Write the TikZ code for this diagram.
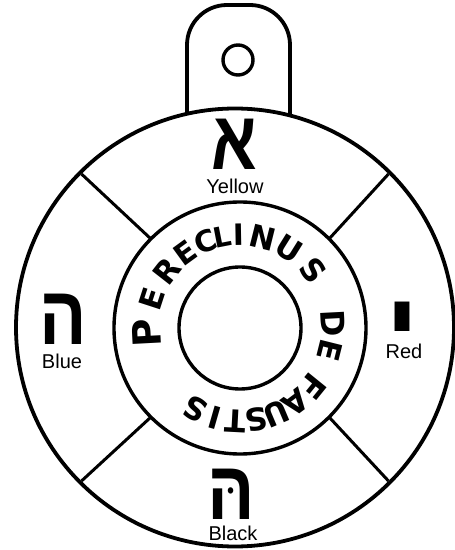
\documentclass[tikz,border=0pt]{standalone}
\usepackage{fontspec}
\setmainfont{Liberation Sans}
\newfontfamily\hebfont[Script=Hebrew]{Liberation Sans}
\newfontfamily\ringfont{DejaVu Sans}
\TeXXeTstate=1
\usetikzlibrary{calc,positioning}
\tikzset{
  rim/.style    = {line width=3.8pt},
  ringline/.style = {line width=3.4pt},
  spoke/.style  = {line width=3pt},
  glyph/.style  = {inner sep=0pt, anchor=base, xscale=1.1, yscale=1.3,
                   text height=38pt, text depth=0pt,
                   font=\hebfont\bfseries\fontsize{64}{64}\selectfont},
  colour/.style = {inner sep=0pt, font=\fontsize{20}{20}\selectfont},
  ringletter/.style = {inner sep=0pt, font=\ringfont\bfseries\fontsize{31}{31}\selectfont},
}

\begin{document}
\begin{tikzpicture}[x=1pt,y=1pt]
  \useasboundingbox (0,0) rectangle (455,550);
  \coordinate (disc) at (235,222.5);
  \coordinate (ring) at (240,222);
  % hanging tab with its hole
  \draw[rim,fill=white,rounded corners=40pt] (187,400) -- (187,545) -- (290,545) -- (290,400);
  \draw[ringline] (238,490) circle (15);
  % wheel
  \draw[rim,fill=white] (disc) circle (219);
  \draw[ringline] (ring) circle (126);
  \draw[ringline] (ring) circle (61);
  \foreach \a in {45,135,225,315}
    \draw[spoke] ($(ring)+(\a:126)$) -- ($(disc)+(\a:217)$);
  % letters and colours
  \node[glyph,xscale=0.95] (aleph) at (234,380) {\beginR א\endR};
  \node[colour] (yellow) at (235,364) {Yellow};
  \node[glyph] (heleft) at (63,205) {\beginR ה\endR};
  \node[colour] (blue) at (62,189) {Blue};
  \node[glyph,anchor=north,xscale=1.6,yscale=1.1] (yod) at (402,247) {\beginR י\endR};
  \node[colour] (red) at (404,199) {Red};
  \node[glyph] (hebottom) at (231,30) {\beginR הּ\endR};
  \node[colour] (black) at (233,17) {Black};
  % name round the ring
  \foreach \ch/\ang/\sz [count=\i] in {P/183/1.25, E/162/1, R/142/1, E/126/0.95,
      C/112/0.95, L/101/0.9, I/91/0.95, N/76/1, U/58/1, S/38/1,
      D/3/1.05, E/-14/1, F/-39/1.05, A/-53/1, U/-67/1, S/-80/1,
      T/-93/1, I/-106/1, S/-119/1}
    \node[ringletter,scale=\sz,rotate=\ang-90] (let\i) at ($(ring)+(\ang:93)$) {\ch};
\end{tikzpicture}
\end{document}
